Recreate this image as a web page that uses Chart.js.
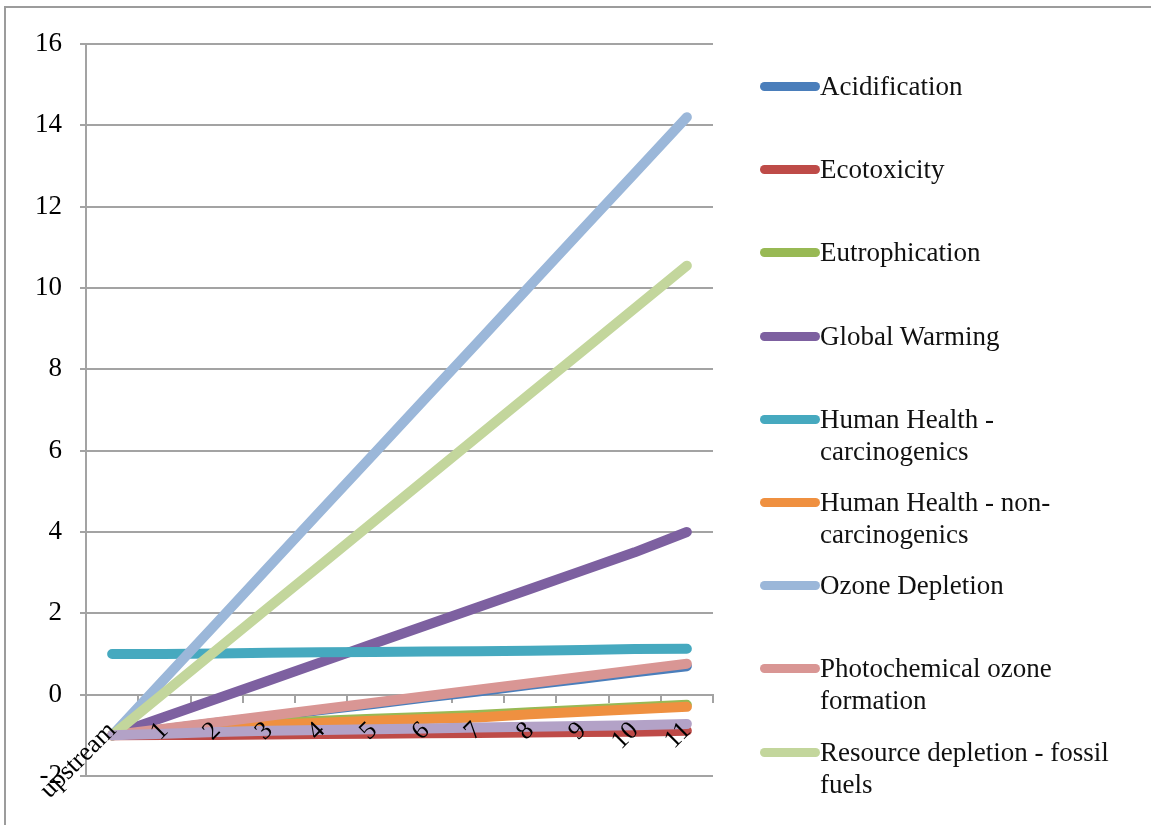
<!DOCTYPE html>
<html>
<head>
<meta charset="utf-8">
<title>Impact categories</title>
<script src="https://cdn.jsdelivr.net/npm/chart.js@4/dist/chart.umd.min.js"></script>
<style>
  html, body { margin: 0; padding: 0; background: #ffffff; }
  #wrap { position: relative; width: 1151px; height: 825px; overflow: hidden; }
  #frame { position: absolute; left: 4px; top: 6px; width: 1300px; height: 1000px;
           border-top: 2px solid #9c9c9c; border-left: 2px solid #9c9c9c; }
  #chart { position: absolute; left: 0; top: 0; }
  #legend { position: absolute; left: 760px; top: 0; width: 390px; height: 825px;
            font-family: "Liberation Serif", "Times New Roman", serif; font-size: 27px; color: #111; }
  .item { position: absolute; left: 0; display: flex; align-items: flex-start; }
  .swatch { width: 60px; height: 9px; border-radius: 5px; margin-top: 12px; flex: none; }
  .text { width: 310px; line-height: 32px; }
</style>
</head>
<body>
<div id="wrap">
  <div id="frame"></div>
  <canvas id="chart" width="1151" height="825"></canvas>
  <div id="legend"></div>
</div>
<script>
// Stages along the chain
const categories = ['upstream', '1', '2', '3', '4', '5', '6', '7', '8', '9', '10', '11'];

// Impact category series
const acidification     = [-1, -0.85, -0.69, -0.54, -0.38, -0.23, -0.07, 0.08, 0.24, 0.39, 0.55, 0.70];
const ecotoxicity       = [-1, -0.99, -0.99, -0.98, -0.97, -0.96, -0.95, -0.94, -0.93, -0.92, -0.91, -0.89];
const eutrophication    = [-1, -0.88, -0.77, -0.70, -0.64, -0.59, -0.55, -0.50, -0.43, -0.37, -0.31, -0.25];
const globalWarming     = [-1, -0.55, -0.10, 0.35, 0.80, 1.25, 1.70, 2.15, 2.60, 3.05, 3.50, 4.00];
const hhCarcinogenics   = [1.00, 1.00, 1.01, 1.03, 1.04, 1.05, 1.06, 1.07, 1.08, 1.10, 1.12, 1.13];
const hhNonCarcinogenic = [-1, -0.90, -0.80, -0.74, -0.69, -0.64, -0.60, -0.56, -0.48, -0.42, -0.36, -0.30];
const ozoneDepletion    = [-1, 0.38, 1.76, 3.15, 4.53, 5.91, 7.29, 8.67, 10.06, 11.44, 12.82, 14.20];
const photochemical     = [-1, -0.84, -0.68, -0.52, -0.36, -0.20, -0.04, 0.12, 0.28, 0.44, 0.60, 0.76];
const resourceFossil    = [-1, 0.05, 1.10, 2.15, 3.20, 4.25, 5.30, 6.35, 7.40, 8.45, 9.50, 10.55];
const otherImpacts      = [-1, -0.96, -0.92, -0.89, -0.87, -0.85, -0.83, -0.81, -0.79, -0.77, -0.75, -0.72];

const seriesNames = [
  'Acidification', 'Ecotoxicity', 'Eutrophication', 'Global Warming',
  'Human Health - carcinogenics', 'Human Health - non-carcinogenics',
  'Ozone Depletion', 'Photochemical ozone formation',
  'Resource depletion - fossil fuels', 'Other'
];
const seriesValues = [
  acidification, ecotoxicity, eutrophication, globalWarming, hhCarcinogenics,
  hhNonCarcinogenic, ozoneDepletion, photochemical, resourceFossil, otherImpacts
];
const seriesColors = [
  '#4a7ebb', '#be4b48', '#98b954', '#7d60a0', '#46a9bf',
  '#ef9040', '#9bb7d9', '#d99694', '#c3d69c', '#b3a2c7'
];
const legendCount = 9;

// Y axis ticks
const yMin = -2, yMax = 16, yStep = 2;

const gridColor = '#a3a3a3';
const fontFamily = '"Liberation Serif", "Times New Roman", serif';

const datasets = seriesNames.map((name, i) => ({
  label: name,
  data: seriesValues[i],
  borderColor: seriesColors[i],
  backgroundColor: seriesColors[i],
  borderWidth: 10,
  borderCapStyle: 'round',
  borderJoinStyle: 'round',
  pointRadius: 0,
  tension: 0,
  fill: false,
  // later series are painted over earlier ones
  order: seriesNames.length - i
}));

new Chart(document.getElementById('chart'), {
  type: 'line',
  data: { labels: categories, datasets },
  options: {
    responsive: false,
    animation: false,
    events: [],
    layout: { padding: { left: 26, top: 44, right: 438, bottom: 49 } },
    plugins: { legend: { display: false }, tooltip: { enabled: false } },
    scales: {
      // category axis crossing at y = 0; its labels sit on top of the lines
      x: {
        type: 'category',
        position: { y: 0 },
        offset: true,
        grid: { offset: true, drawOnChartArea: false, drawTicks: true, tickLength: 7,
                color: gridColor, lineWidth: 2 },
        border: { display: true, color: gridColor, width: 2 },
        ticks: { autoSkip: false, maxRotation: 45, minRotation: 45, padding: 14, z: 1,
                 color: '#000', font: { family: fontFamily, size: 26 } }
      },
      y: {
        min: yMin, max: yMax,
        ticks: { stepSize: yStep, padding: 18, color: '#000',
                 font: { family: fontFamily, size: 27 } },
        grid: { color: gridColor, lineWidth: 2, tickLength: 6 },
        border: { display: true, color: gridColor, width: 2 },
        afterFit(scale) { scale.width = 60; }
      }
    }
  }
});

// Legend on the right
const legend = document.getElementById('legend');
const legendTop = 87, legendGap = 83.2;
for (let i = 0; i < legendCount; i++) {
  const item = document.createElement('div');
  item.className = 'item';
  item.style.top = (legendTop + i * legendGap - 17) + 'px';
  const sw = document.createElement('div');
  sw.className = 'swatch';
  sw.style.background = seriesColors[i];
  const tx = document.createElement('div');
  tx.className = 'text';
  tx.textContent = seriesNames[i];
  item.appendChild(sw);
  item.appendChild(tx);
  legend.appendChild(item);
}
</script>
</body>
</html>
